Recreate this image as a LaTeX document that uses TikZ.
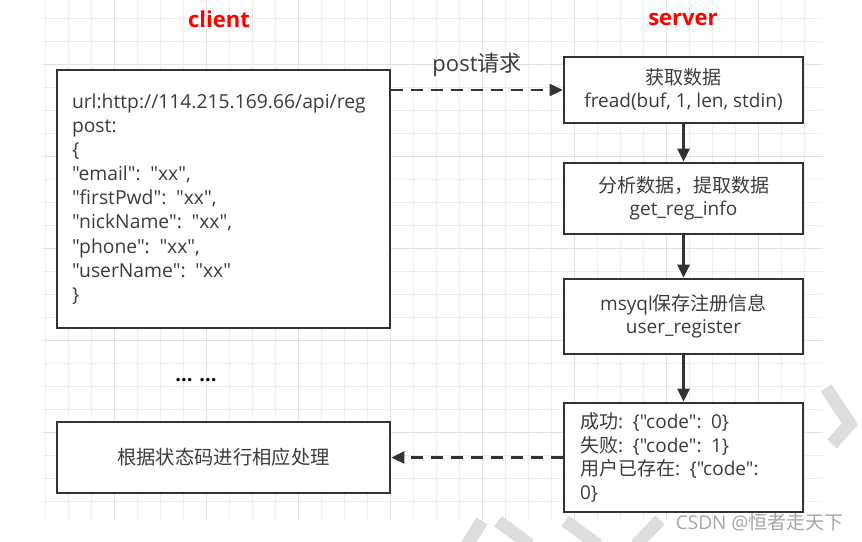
\documentclass[tikz,border=0pt]{standalone}
\usepackage{fontspec}
\setmainfont{Open Sans}[Ligatures=TeXOff]
\newfontfamily\cjk{Noto Sans CJK SC}
\usetikzlibrary{arrows.meta}
\definecolor{ink}{HTML}{333333}
\definecolor{txt}{HTML}{3C3C3C}
\definecolor{gridminor}{HTML}{EDEDED}
\definecolor{gridmajor}{HTML}{E2E2E2}
\definecolor{wm}{HTML}{DDDDDD}
\tikzset{
  box/.style={draw=ink, line width=2.6pt, fill=white, text=txt, inner sep=0pt},
  flow/.style={draw=ink, line width=2.6pt, -{Triangle[length=13pt,width=12pt]}},
  dflow/.style={flow, dash pattern=on 12pt off 8pt},
  title/.style={text=red, font=\bfseries\fontsize{22}{26}\selectfont},
  wmark/.style={draw=wm, line width=13pt},
}
\begin{document}
\begin{tikzpicture}[x=1pt,y=-1pt]
\useasboundingbox (0,0) rectangle (862,541);
\fill[white] (0,0) rectangle (862,541);
% grid
\foreach \x in {45.3,68.3,...,823} \draw[gridminor, line width=1pt] (\x,0) -- (\x,520);
\foreach \y in {18.5,41.5,...,520} \draw[gridminor, line width=1pt] (43,\y) -- (823,\y);
\foreach \x in {114.3,206.3,...,823} \draw[gridmajor, line width=1.2pt] (\x,0) -- (\x,520);
\foreach \y in {64.5,156.5,...,520} \draw[gridmajor, line width=1.2pt] (43,\y) -- (823,\y);
% watermark strokes
\draw[wmark] (826,388) -- (850,424) -- (832,444);
\draw[wmark] (467,545) -- (482,521);
\draw[wmark] (498,521) -- (530,545);
\draw[wmark] (565,521) -- (598,545);
\draw[wmark] (636,545) -- (660,520);
% titles
\node[title] (tc) at (219,19) {client};
\node[title] (ts) at (683,19) {server};
% client box
\node[box, minimum width=333pt, minimum height=258pt, text width=303pt, align=left,
      font=\fontsize{19.3}{24.1}\selectfont] (client) at (223.5,199)
  {url:http://114.215.169.66/api/reg\\post:\\\{\\"email": "xx",\\"firstPwd": "xx",\\"nickName": "xx",\\"phone": "xx",\\"userName": "xx"\\\}};
% server boxes
\node[box, minimum width=239pt, minimum height=66pt, align=center,
      font=\fontsize{19}{23}\selectfont] (b1) at (683.5,90)
  {{\cjk 获取数据}\\fread(buf, 1, len, stdin)};
\node[box, minimum width=239pt, minimum height=71pt, align=center,
      font=\fontsize{19}{23}\selectfont] (b2) at (683.5,198.5)
  {{\cjk 分析数据，提取数据}\\get\_reg\_info};
\node[box, minimum width=239pt, minimum height=75pt, align=center,
      font=\fontsize{19}{23}\selectfont] (b3) at (683.5,316.5)
  {msyql{\cjk 保存注册信息}\\user\_register};
\node[box, minimum width=239pt, minimum height=109pt, text width=207pt, align=left,
      font=\fontsize{19}{23.7}\selectfont] (b4) at (683.5,457.5)
  {{\cjk 成功}: \{"code": 0\}\\{\cjk 失败}: \{"code": 1\}\\{\cjk 用户已存在}: \{"code":\\0\}};
% bottom-left box
\node[box, minimum width=333pt, minimum height=71pt, align=center,
      font=\cjk\fontsize{19.3}{24}\selectfont] (bl) at (223.5,457.5)
  {根据状态码进行相应处理};
% ellipsis
\node[text=black, font=\bfseries\fontsize{20}{24}\selectfont] (dots) at (196,380) {... ...};
% connectors
\draw[dflow] (b1.west -| client.east) -- node[above=9pt, text=txt, font=\fontsize{22}{26}\selectfont] (lbl) {post{\cjk 请求}} (b1.west);
\draw[flow] (b1) -- (b2);
\draw[flow] (b2) -- (b3);
\draw[flow] (b3) -- (b4);
\draw[dflow] (b4.west) -- (bl.east);
% watermark text
\node[text=gray!70, font=\fontsize{19}{22}\selectfont, anchor=east] (csdn) at (847,522) {CSDN @{\cjk 恒者走天下}};
\end{tikzpicture}
\end{document}
